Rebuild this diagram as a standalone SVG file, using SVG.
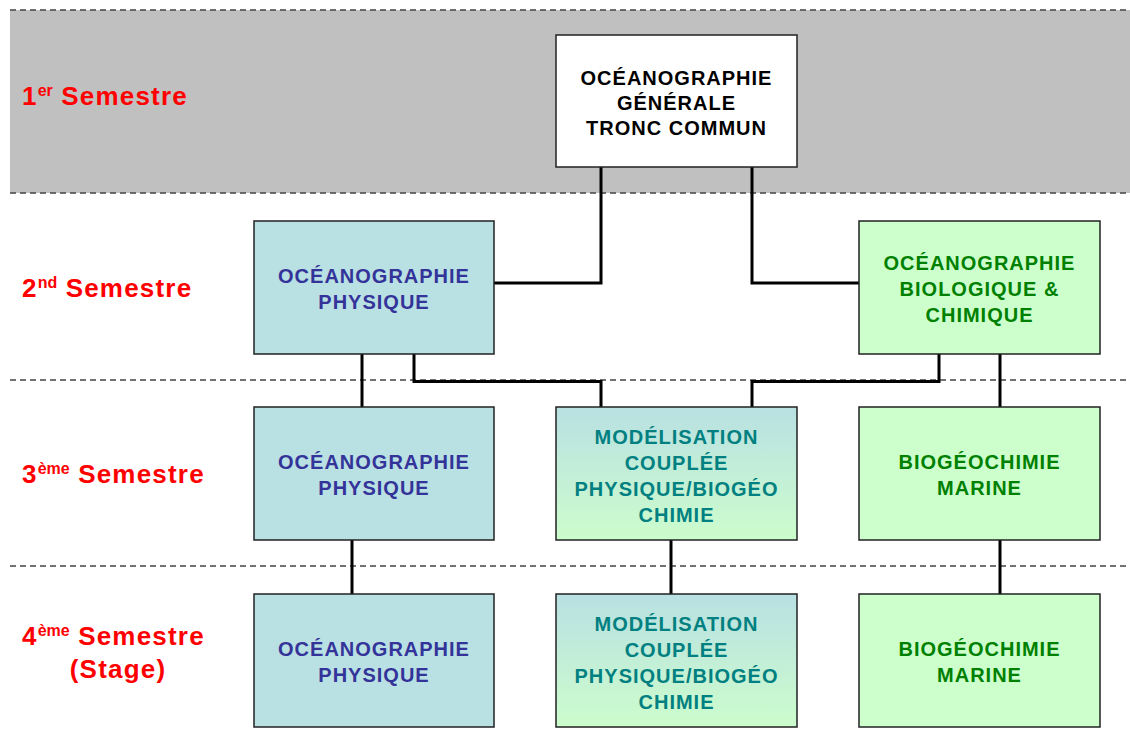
<svg xmlns="http://www.w3.org/2000/svg" width="1130" height="751" viewBox="0 0 1130 751">
<style>
.band{fill:#c0c0c0}
.dash{stroke:#444;stroke-width:1.5;stroke-dasharray:6 4;fill:none}
.box{stroke:#222;stroke-width:1.5}
.white{fill:#ffffff}
.blue{fill:#b9e0e3}
.green{fill:#ccffcc}
.grad{fill:url(#g)}
.t{font-family:"Liberation Sans",Arial,sans-serif;font-weight:bold;font-size:20px;letter-spacing:1px;text-anchor:middle}
.tk{fill:#000}
.tb{fill:#333399}
.tt{fill:#008080}
.tg{fill:#008000}
.sem{font-family:"Liberation Sans",Arial,sans-serif;font-weight:bold;font-size:26px;letter-spacing:1.2px;fill:#ff0000}
.sup{font-size:16px;letter-spacing:0}
.conn{stroke:#000;stroke-width:3;fill:none}
</style>
<defs>
<linearGradient id="g" x1="0" y1="0" x2="0" y2="1">
<stop offset="0" stop-color="#b9e0e3"/>
<stop offset="1" stop-color="#ccfdcc"/>
</linearGradient>
</defs>
<rect class="band" x="10" y="10" width="1120" height="183"/>
<g id="dividers">
<line class="dash" x1="10" y1="10" x2="1130" y2="10"/>
<line class="dash" x1="10" y1="193" x2="1130" y2="193"/>
<line class="dash" x1="10" y1="380" x2="1130" y2="380"/>
<line class="dash" x1="10" y1="566" x2="1130" y2="566"/>
</g>
<g id="labels">
<text class="sem" x="22" y="105">1<tspan class="sup" dy="-9">er</tspan><tspan dy="9"> Semestre</tspan></text>
<text class="sem" x="22" y="297">2<tspan class="sup" dy="-9">nd</tspan><tspan dy="9"> Semestre</tspan></text>
<text class="sem" x="22" y="483">3<tspan class="sup" dy="-9">ème</tspan><tspan dy="9"> Semestre</tspan></text>
<text class="sem" x="22" y="645">4<tspan class="sup" dy="-9">ème</tspan><tspan dy="9"> Semestre</tspan></text>
<text class="sem" x="118" y="678" text-anchor="middle">(Stage)</text>
</g>
<g id="connectors">
<path class="conn" d="M601 167 V283 H494"/>
<path class="conn" d="M752 167 V283 H859"/>
<path class="conn" d="M362 354 V407"/>
<path class="conn" d="M414 354 V381.5 H601 V407"/>
<path class="conn" d="M939 354 V381.5 H752 V407"/>
<path class="conn" d="M1000 354 V407"/>
<path class="conn" d="M352 540 V594"/>
<path class="conn" d="M671 540 V594"/>
<path class="conn" d="M1000 540 V594"/>
</g>
<g id="n-general">
<rect class="box white" x="556" y="35" width="241" height="132"/>
<text class="t tk" x="676.5" y="85">OCÉANOGRAPHIE</text>
<text class="t tk" x="676.5" y="110">GÉNÉRALE</text>
<text class="t tk" x="676.5" y="135">TRONC COMMUN</text>
</g>
<g id="n-phys2">
<rect class="box blue" x="254" y="221" width="240" height="133"/>
<text class="t tb" x="374" y="283">OCÉANOGRAPHIE</text>
<text class="t tb" x="374" y="309">PHYSIQUE</text>
</g>
<g id="n-bio2">
<rect class="box green" x="859" y="221" width="241" height="133"/>
<text class="t tg" x="979.5" y="270">OCÉANOGRAPHIE</text>
<text class="t tg" x="979.5" y="296">BIOLOGIQUE &amp;</text>
<text class="t tg" x="979.5" y="322">CHIMIQUE</text>
</g>
<g id="n-phys3">
<rect class="box blue" x="254" y="407" width="240" height="133"/>
<text class="t tb" x="374" y="469">OCÉANOGRAPHIE</text>
<text class="t tb" x="374" y="495">PHYSIQUE</text>
</g>
<g id="n-model3">
<rect class="box grad" x="556" y="407" width="241" height="133"/>
<text class="t tt" x="676.5" y="444">MODÉLISATION</text>
<text class="t tt" x="676.5" y="470">COUPLÉE</text>
<text class="t tt" x="676.5" y="496">PHYSIQUE/BIOGÉO</text>
<text class="t tt" x="676.5" y="522">CHIMIE</text>
</g>
<g id="n-biogeo3">
<rect class="box green" x="859" y="407" width="241" height="133"/>
<text class="t tg" x="979.5" y="469">BIOGÉOCHIMIE</text>
<text class="t tg" x="979.5" y="495">MARINE</text>
</g>
<g id="n-phys4">
<rect class="box blue" x="254" y="594" width="240" height="133"/>
<text class="t tb" x="374" y="656">OCÉANOGRAPHIE</text>
<text class="t tb" x="374" y="682">PHYSIQUE</text>
</g>
<g id="n-model4">
<rect class="box grad" x="556" y="594" width="241" height="133"/>
<text class="t tt" x="676.5" y="631">MODÉLISATION</text>
<text class="t tt" x="676.5" y="657">COUPLÉE</text>
<text class="t tt" x="676.5" y="683">PHYSIQUE/BIOGÉO</text>
<text class="t tt" x="676.5" y="709">CHIMIE</text>
</g>
<g id="n-biogeo4">
<rect class="box green" x="859" y="594" width="241" height="133"/>
<text class="t tg" x="979.5" y="656">BIOGÉOCHIMIE</text>
<text class="t tg" x="979.5" y="682">MARINE</text>
</g>
</svg>
